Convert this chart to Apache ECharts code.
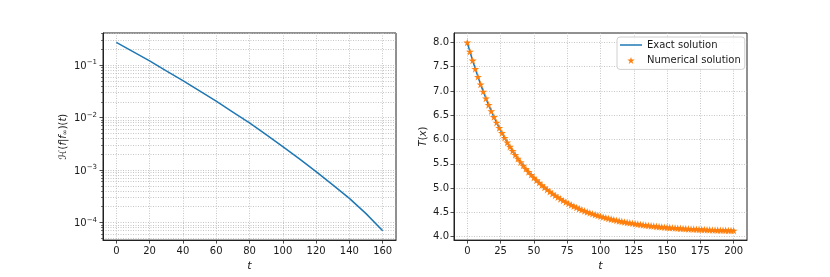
<!DOCTYPE html>
<html>
<head>
<meta charset="utf-8">
<script src="https://cdn.jsdelivr.net/npm/echarts@6/dist/echarts.min.js"></script>
<style>
html,body{margin:0;padding:0;background:#fff;}
#chart{width:830px;height:277px;}
</style>
</head>
<body>
<div id="chart"></div>
<script>
// Left panel: relative entropy vs t (log scale)
const tLeft = [0, 10, 20, 30, 40, 50, 60, 70, 80, 90, 100, 110, 120, 130, 140, 150, 160];
const hLeft = [0.2717, 0.181, 0.1205, 0.078, 0.0506, 0.0323, 0.0206, 0.01276, 0.0079, 0.00473, 0.00279, 0.00163, 0.00093, 0.00052, 0.000287, 0.000147, 0.0000695];

// Right panel: T(x) exact and numerical
const tRight = [0,2,4,6,8,10,12,14,16,18,20,22,24,26,28,30,32,34,36,38,40,42,44,46,48,50,52,54,56,58,60,62,64,66,68,70,72,74,76,78,80,82,84,86,88,90,92,94,96,98,100,102,104,106,108,110,112,114,116,118,120,122,124,126,128,130,132,134,136,138,140,142,144,146,148,150,152,154,156,158,160,162,164,166,168,170,172,174,176,178,180,182,184,186,188,190,192,194,196,198,200];
const TRight = [8.000,7.810,7.629,7.457,7.293,7.137,6.989,6.848,6.714,6.587,6.465,6.350,6.240,6.136,6.037,5.942,5.852,5.767,5.686,5.608,5.535,5.465,5.398,5.335,5.275,5.217,5.163,5.111,5.062,5.015,4.970,4.928,4.887,4.849,4.812,4.778,4.745,4.713,4.683,4.655,4.628,4.602,4.578,4.554,4.532,4.511,4.491,4.472,4.454,4.437,4.420,4.405,4.390,4.376,4.362,4.349,4.337,4.326,4.315,4.304,4.294,4.285,4.276,4.267,4.259,4.251,4.244,4.237,4.230,4.224,4.218,4.212,4.207,4.201,4.196,4.192,4.187,4.183,4.179,4.175,4.171,4.168,4.165,4.161,4.158,4.156,4.153,4.150,4.148,4.146,4.143,4.141,4.139,4.137,4.135,4.134,4.132,4.131,4.129,4.128,4.126];

// Tick labels / tick values
const xTicksLeft = [0, 20, 40, 60, 80, 100, 120, 140, 160];
const xTicksRight = [0, 25, 50, 75, 100, 125, 150, 175, 200];
const yTicksRight = [4.0, 4.5, 5.0, 5.5, 6.0, 6.5, 7.0, 7.5, 8.0];
const logDecades = [-5, -4, -3, -2, -1];
const minorMultipliers = [2, 3, 4, 5, 6, 7, 8, 9];

const leftMin = 4.6e-5, leftMax = 0.41;
const minorVals = [];
logDecades.forEach(function (d) {
  minorMultipliers.forEach(function (m) {
    const v = m * Math.pow(10, d);
    if (v > leftMin && v < leftMax) minorVals.push(+v.toPrecision(3));
  });
});

const BLUE = '#1f77b4', ORANGE = '#ff7f0e';
const FONT = 'DejaVu Sans';
const TXT = '#1a1a1a';
const GRIDC = '#b8b8b8';
const DOT = [1, 1.5];

const star = 'path://M0,-1 L0.2245,-0.309 L0.951,-0.309 L0.363,0.118 L0.588,0.809 L0,0.382 L-0.588,0.809 L-0.363,0.118 L-0.951,-0.309 L-0.2245,-0.309 Z';
const lineIcon = 'path://M0,0 L22,0 L22,1.5 L0,1.5 Z';

const chart = echarts.init(document.getElementById('chart'), null, {renderer: 'canvas'});

function baseAxisCommon() {
  return {
    axisLine: {show: true, onZero: false, lineStyle: {color: '#222', width: 1}},
    axisTick: {show: true, inside: false, length: 3.5, lineStyle: {color: '#222', width: 0.8}},
    axisLabel: {color: TXT, fontFamily: FONT, fontSize: 10},
    splitLine: {show: true, lineStyle: {color: GRIDC, width: 0.8, type: DOT}},
  };
}

const xL = Object.assign(baseAxisCommon(), {
  type: 'value', gridIndex: 0, min: -8, max: 168, interval: 20,
  name: 't', nameLocation: 'middle', nameGap: 15,
  nameTextStyle: {fontFamily: FONT, fontSize: 11, fontStyle: 'italic', color: TXT}
});
xL.axisLabel = Object.assign(xL.axisLabel, {margin: 6, customValues: xTicksLeft});
xL.axisTick = Object.assign(xL.axisTick, {customValues: xTicksLeft});

const xR = Object.assign(baseAxisCommon(), {
  type: 'value', gridIndex: 1, min: -10, max: 210, interval: 25,
  name: 't', nameLocation: 'middle', nameGap: 15,
  nameTextStyle: {fontFamily: FONT, fontSize: 11, fontStyle: 'italic', color: TXT}
});
xR.axisLabel = Object.assign(xR.axisLabel, {margin: 6, customValues: xTicksRight});
xR.axisTick = Object.assign(xR.axisTick, {customValues: xTicksRight});

const yL = Object.assign(baseAxisCommon(), {
  type: 'log', logBase: 10, gridIndex: 0, min: leftMin, max: leftMax, position: 'left',
  name: '{c|ℋ}{n|(}{i|f}{n||}{i|f}{s|∞}{n|)(}{i|t}{n|)}',
  nameLocation: 'middle', nameGap: 34,
  nameTextStyle: {
    fontFamily: FONT, fontSize: 10, color: TXT,
    rich: {
      c: {fontFamily: FONT, fontSize: 10, color: TXT, fontStyle: 'italic'},
      n: {fontFamily: FONT, fontSize: 10, color: TXT},
      i: {fontFamily: FONT, fontSize: 10, color: TXT, fontStyle: 'italic'},
      s: {fontFamily: FONT, fontSize: 7, color: TXT, verticalAlign: 'bottom', lineHeight: 12, padding: [3, 0, 0, 0]}
    }
  }
});
yL.axisLabel = Object.assign(yL.axisLabel, {
  margin: 6, showMinLabel: false, showMaxLabel: false,
  formatter: function (v) {
    const k = Math.round(Math.log10(v));
    return '{b|10}{sup|' + (k < 0 ? '\u2212' : '') + Math.abs(k) + '}';
  },
  rich: {
    b: {fontFamily: FONT, fontSize: 10, color: TXT, lineHeight: 12, padding: [3, 0, 0, 0], verticalAlign: 'bottom'},
    sup: {fontFamily: FONT, fontSize: 7, color: TXT, lineHeight: 12, verticalAlign: 'top'}
  }
});

// Minor ticks + minor grid on left log axis
const yLminor = {
  type: 'log', logBase: 10, gridIndex: 0, min: leftMin, max: leftMax, position: 'left',
  axisLine: {show: false, onZero: false},
  axisLabel: {show: false},
  splitLine: {show: true, lineStyle: {color: GRIDC, width: 0.8, type: DOT}},
  axisTick: {show: true, inside: false, length: 2, lineStyle: {color: '#222', width: 0.6}, customValues: minorVals}
};

const yR = Object.assign(baseAxisCommon(), {
  type: 'value', gridIndex: 1, min: 3.93, max: 8.195, interval: 0.5, position: 'left',
  name: '{i|T}{n|(}{i|x}{n|)}',
  nameLocation: 'middle', nameGap: 26,
  nameTextStyle: {
    fontFamily: FONT, fontSize: 10, color: TXT,
    rich: {
      n: {fontFamily: FONT, fontSize: 10, color: TXT},
      i: {fontFamily: FONT, fontSize: 10, color: TXT, fontStyle: 'italic'}
    }
  }
});
yR.axisLabel = Object.assign(yR.axisLabel, {
  margin: 5, customValues: yTicksRight,
  formatter: function (v) { return v.toFixed(1); }
});
yR.axisTick = Object.assign(yR.axisTick, {customValues: yTicksRight});

const option = {
  animation: false,
  backgroundColor: '#ffffff',
  grid: [
    {left: 103, top: 33, width: 293, height: 209, show: true, borderColor: '#222', borderWidth: 1, backgroundColor: 'transparent'},
    {left: 454, top: 33, width: 293, height: 209, show: true, borderColor: '#222', borderWidth: 1, backgroundColor: 'transparent'}
  ],
  xAxis: [xL, xR],
  yAxis: [yL, yR, yLminor],
  legend: {
    orient: 'vertical', left: 617, top: 37,
    padding: [2, 4, 3, 3], itemGap: 3.4, itemWidth: 22, itemHeight: 7,
    backgroundColor: 'rgba(255,255,255,0.85)', borderColor: '#d0d0d0', borderWidth: 1, borderRadius: 3,
    textStyle: {fontFamily: FONT, fontSize: 10, color: TXT, lineHeight: 12},
    data: [
      {name: 'Exact solution', icon: lineIcon},
      {name: 'Numerical solution'}
    ]
  },
  series: [
    {
      name: 'entropy', type: 'line', xAxisIndex: 0, yAxisIndex: 0,
      data: tLeft.map(function (t, i) { return [t, hLeft[i]]; }),
      symbol: 'none', smooth: false,
      lineStyle: {color: BLUE, width: 1.5},
      z: 3
    },
    {
      name: 'Exact solution', type: 'line', xAxisIndex: 1, yAxisIndex: 1,
      data: tRight.map(function (t, i) { return [t, TRight[i]]; }),
      symbol: 'none', showSymbol: false, smooth: true,
      lineStyle: {color: BLUE, width: 1.5},
      itemStyle: {color: BLUE},
      z: 3
    },
    {
      name: 'Numerical solution', type: 'scatter', xAxisIndex: 1, yAxisIndex: 1,
      data: tRight.map(function (t, i) { return [t, TRight[i]]; }),
      symbol: star, symbolSize: 8, symbolKeepAspect: true,
      itemStyle: {color: ORANGE, opacity: 1},
      z: 4
    }
  ]
};
chart.setOption(option);
</script>
</body>
</html>
